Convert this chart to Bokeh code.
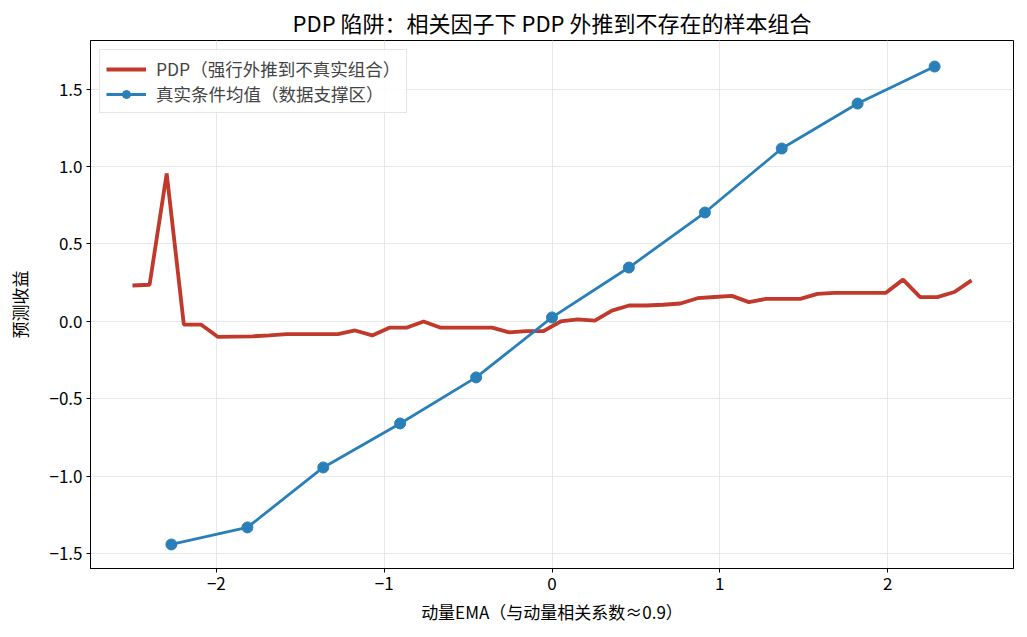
from bokeh.plotting import figure
from bokeh.models import Legend, LegendItem, FixedTicker
from bokeh.embed import file_html
from bokeh.resources import INLINE
import numpy as np

# PDP curve (50 grid points from -2.5 to 2.5)
pdp_x = np.linspace(-2.5, 2.5, 50)
pdp_y = [0.232, 0.237, 0.955, -0.02, -0.02, -0.10, -0.098, -0.096, -0.09, -0.082,
         -0.082, -0.082, -0.082, -0.058, -0.09, -0.04, -0.04, 0.00, -0.04, -0.04,
         -0.04, -0.04, -0.07, -0.062, -0.062, 0.00, 0.013, 0.006, 0.07, 0.103,
         0.103, 0.108, 0.116, 0.15, 0.158, 0.165, 0.125, 0.146, 0.146, 0.146,
         0.178, 0.185, 0.185, 0.185, 0.185, 0.27, 0.157, 0.157, 0.19, 0.265]

# True conditional means (data-supported bins)
cond_x = [-2.268, -1.815, -1.363, -0.905, -0.452, 0.0, 0.458, 0.911, 1.369, 1.821, 2.28]
cond_y = [-1.439, -1.329, -0.942, -0.658, -0.361, 0.026, 0.348, 0.703, 1.116, 1.406, 1.645]

x_ticks = [-2, -1, 0, 1, 2]
x_labels = ["−2", "−1", "0", "1", "2"]
y_ticks = [-1.5, -1.0, -0.5, 0.0, 0.5, 1.0, 1.5]
y_labels = ["−1.5", "−1.0", "−0.5", "0.0", "0.5", "1.0", "1.5"]

title = "PDP 陷阱：相关因子下 PDP 外推到不存在的样本组合"
xlabel = "动量EMA（与动量相关系数≈0.9）"
ylabel = "预测收益"
pdp_name = "PDP（强行外推到不真实组合）"
cond_name = "真实条件均值（数据支撑区）"

RED = "#c0392b"
BLUE = "#2980b9"
FONT = "Noto Sans CJK SC"

p = figure(width=1027, height=637, output_backend="svg", toolbar_location=None,
           x_range=(-2.75, 2.75), y_range=(-1.594, 1.813),
           min_border_left=90, min_border_right=14, min_border_top=40, min_border_bottom=69)

p.title.text = title
p.title.align = "center"
p.title.text_font = FONT
p.title.text_font_size = "22px"
p.title.text_font_style = "normal"
p.title.text_color = "black"
p.title.offset = 0
p.title.standoff = 5

r_pdp = p.line(pdp_x, pdp_y, line_color=RED, line_width=3.8)
r_line = p.line(cond_x, cond_y, line_color=BLUE, line_width=2.8)
r_pts = p.scatter(cond_x, cond_y, size=11, fill_color=BLUE, line_color=BLUE)

p.xaxis.ticker = FixedTicker(ticks=x_ticks)
p.yaxis.ticker = FixedTicker(ticks=y_ticks)
p.xaxis.major_label_overrides = {t: l for t, l in zip(x_ticks, x_labels)}
p.yaxis.major_label_overrides = {t: l for t, l in zip(y_ticks, y_labels)}

for ax in (p.xaxis, p.yaxis):
    ax.major_label_text_font = FONT
    ax.major_label_text_font_size = "17px"
    ax.major_label_text_color = "black"
    ax.axis_label_text_font = FONT
    ax.axis_label_text_font_size = "17px"
    ax.axis_label_text_font_style = "normal"
    ax.axis_label_text_color = "black"
    ax.axis_line_color = "black"
    ax.major_tick_line_color = "black"
    ax.major_tick_out = 4
    ax.major_tick_in = 0
    ax.minor_tick_line_color = None
    ax.major_label_standoff = 4

p.xaxis.axis_label = xlabel
p.yaxis.axis_label = ylabel
p.xaxis.axis_label_standoff = 6
p.yaxis.axis_label_standoff = 14

p.xgrid.grid_line_color = "#e8e8e8"
p.ygrid.grid_line_color = "#e8e8e8"
p.xgrid.ticker = FixedTicker(ticks=x_ticks)
p.ygrid.ticker = FixedTicker(ticks=y_ticks)

p.outline_line_color = "black"
p.outline_line_width = 1
p.background_fill_color = "white"

legend = Legend(items=[LegendItem(label=pdp_name, renderers=[r_pdp]),
                       LegendItem(label=cond_name, renderers=[r_line, r_pts])],
                location="top_left")
legend.label_text_font = FONT
legend.label_text_font_size = "17.5px"
legend.label_standoff = 10
legend.glyph_width = 40
legend.glyph_height = 20
legend.label_height = 20
legend.spacing = 0
legend.padding = 6
legend.margin = 9
legend.border_line_color = "#cccccc"
legend.background_fill_alpha = 0.85
p.add_layout(legend)

open("out.html", "w").write(file_html(p, INLINE))
